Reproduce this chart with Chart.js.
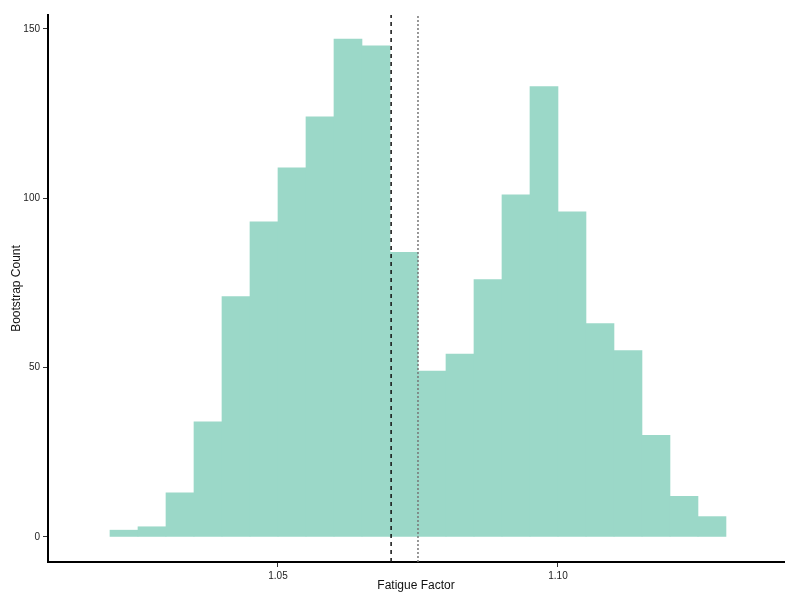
<!DOCTYPE html>
<html>
<head>
<meta charset="utf-8">
<script src="https://cdn.jsdelivr.net/npm/chart.js@4"></script>
<style>
  html, body { margin: 0; padding: 0; background: #fff; }
  canvas { display: block; }
</style>
</head>
<body>
<canvas id="histChart" width="800" height="600"></canvas>
<script>
// Histogram bins (centres) and bootstrap counts
const binCenters = [1.0225, 1.0275, 1.0325, 1.0375, 1.0425, 1.0475, 1.0525, 1.0575,
    1.0625, 1.0675, 1.0725, 1.0775, 1.0825, 1.0875, 1.0925, 1.0975, 1.1025, 1.1075,
    1.1125, 1.1175, 1.1225, 1.1275];
const counts = [2, 3, 13, 34, 71, 93, 109, 124, 147, 145, 84, 49, 54, 76, 101, 133, 96, 63, 55, 30, 12, 6];

// Reference lines
const dashedLineX = 1.0702;
const dottedLineX = 1.0750;

const xTicks = [1.05, 1.10];
const yTicks = [0, 50, 100, 150];
const xRange = [1.00893, 1.14036];
const yRange = [-7.4, 154.1];

const ctx = document.getElementById('histChart').getContext('2d');

new Chart(ctx, {
    type: 'bar',
    data: {
        datasets: [
            {
                type: 'line',
                data: [{ x: dashedLineX, y: yRange[0] }, { x: dashedLineX, y: yRange[1] }],
                borderColor: '#111',
                borderWidth: 1.5,
                borderDash: [4, 4],
                pointRadius: 0,
                order: 0
            },
            {
                type: 'line',
                data: [{ x: dottedLineX, y: yRange[0] }, { x: dottedLineX, y: yRange[1] }],
                borderColor: '#777',
                borderWidth: 1.5,
                borderDash: [2, 2],
                pointRadius: 0,
                order: 0
            },
            {
                label: 'Bootstrap Count',
                data: binCenters.map((x, i) => ({ x: x, y: counts[i] })),
                backgroundColor: 'rgb(155, 216, 200)',
                borderWidth: 0,
                barPercentage: 1.0,
                categoryPercentage: 1.0,
                order: 1
            }
        ]
    },
    options: {
        responsive: false,
        animation: false,
        layout: { padding: { top: 15, right: 16, left: 0, bottom: 0 } },
        scales: {
            x: {
                type: 'linear',
                offset: false,
                min: xRange[0],
                max: xRange[1],
                afterBuildTicks: scale => { scale.ticks = xTicks.map(v => ({ value: v })); },
                afterFit: scale => { scale.height = 38; },
                grid: { offset: false, drawOnChartArea: false, drawTicks: true, tickLength: 5, color: '#333' },
                border: { display: true, color: '#000', width: 2 },
                ticks: {
                    color: '#222',
                    padding: 3,
                    maxRotation: 0,
                    font: { family: 'Liberation Sans, Arial, sans-serif', size: 10 },
                    callback: v => v.toFixed(2)
                },
                title: {
                    display: true,
                    text: 'Fatigue Factor',
                    color: '#111',
                    padding: { top: 0, bottom: 7 },
                    font: { family: 'Liberation Sans, Arial, sans-serif', size: 12 }
                }
            },
            y: {
                min: yRange[0],
                max: yRange[1],
                afterBuildTicks: scale => { scale.ticks = yTicks.map(v => ({ value: v })); },
                afterFit: scale => { scale.width = 48; },
                grid: { drawOnChartArea: false, drawTicks: true, tickLength: 5, color: '#333' },
                border: { display: true, color: '#000', width: 2 },
                ticks: {
                    color: '#222',
                    padding: 3,
                    font: { family: 'Liberation Sans, Arial, sans-serif', size: 10 }
                },
                title: {
                    display: true,
                    text: 'Bootstrap Count',
                    color: '#111',
                    padding: { top: 9, bottom: 2 },
                    font: { family: 'Liberation Sans, Arial, sans-serif', size: 12 }
                }
            }
        },
        plugins: {
            legend: { display: false },
            tooltip: { enabled: false }
        }
    }
});
</script>
</body>
</html>
